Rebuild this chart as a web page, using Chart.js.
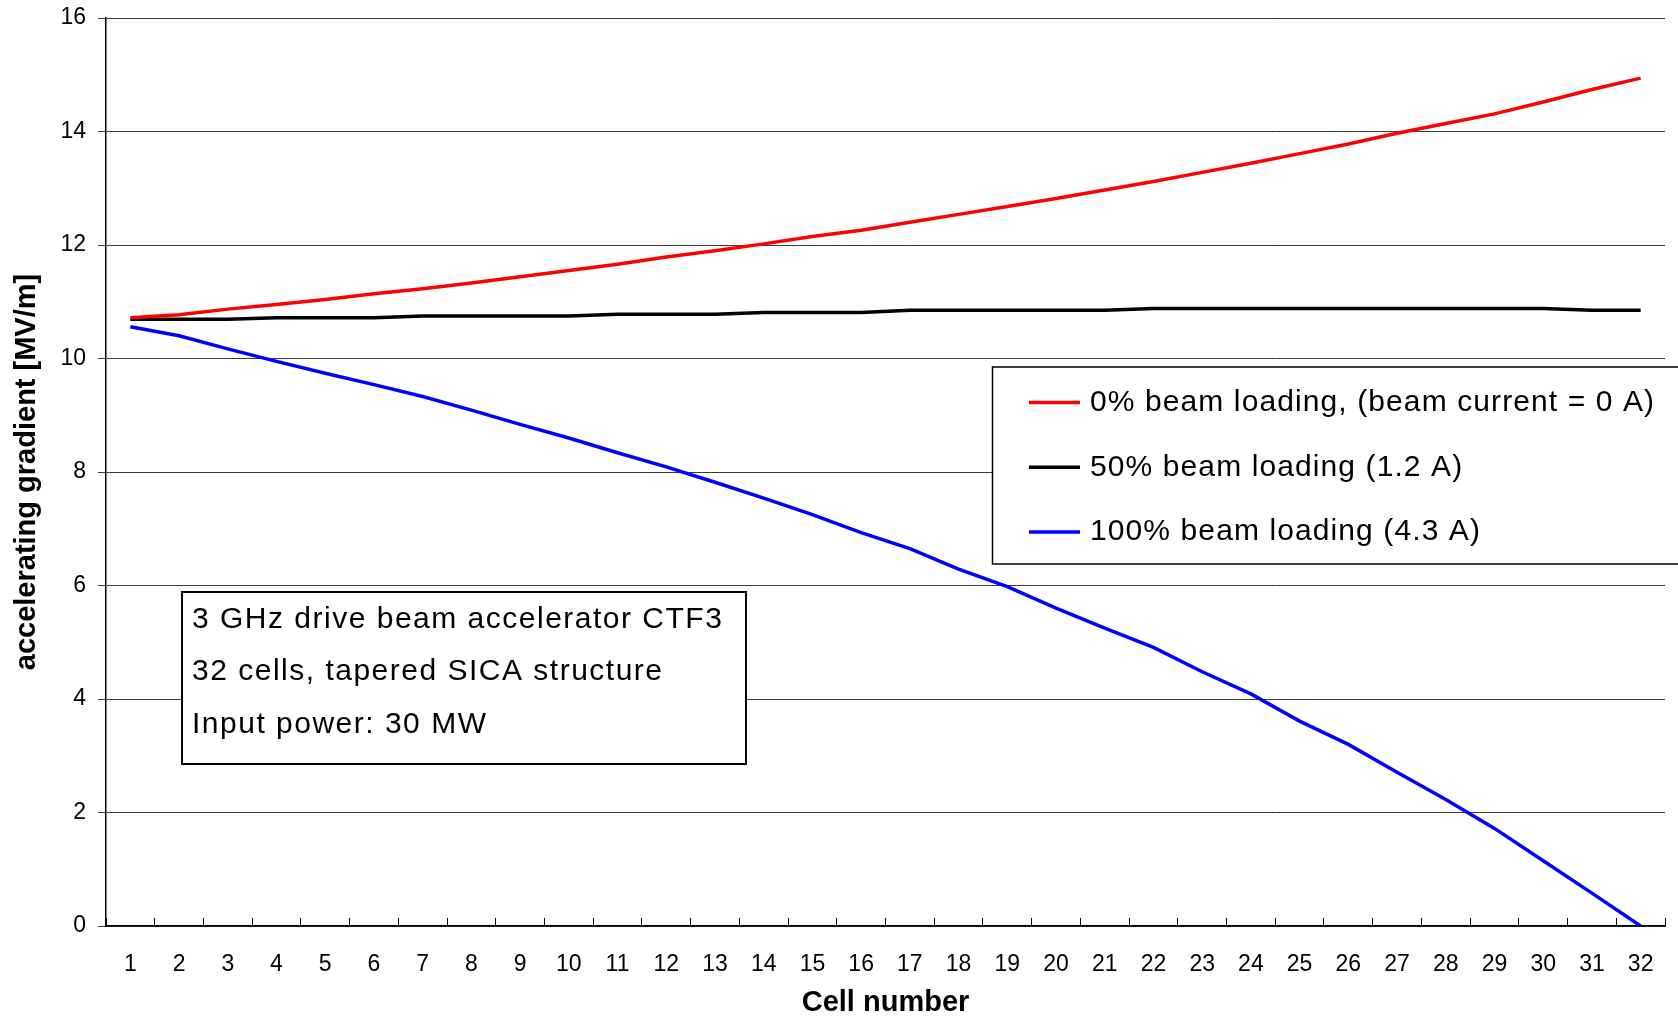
<!DOCTYPE html>
<html>
<head>
<meta charset="utf-8">
<script src="https://cdn.jsdelivr.net/npm/chart.js@4"></script>
<style>
  html, body { margin: 0; padding: 0; background: #fff; }
  #wrap { width: 1678px; height: 1017px; }
</style>
</head>
<body>
<div id="wrap"><canvas id="c" width="1678" height="1017"></canvas></div>
<script>
// ---- data ----
const cells = ['1','2','3','4','5','6','7','8','9','10','11','12','13','14','15','16',
               '17','18','19','20','21','22','23','24','25','26','27','28','29','30','31','32'];
const load0 = [10.72,10.77,10.87,10.95,11.04,11.14,11.23,11.33,11.44,11.55,11.66,11.79,11.90,12.02,12.15,12.26,
               12.40,12.54,12.68,12.82,12.97,13.12,13.28,13.44,13.61,13.78,13.97,14.14,14.31,14.52,14.74,14.94];
const load50 = [10.69,10.69,10.69,10.72,10.72,10.72,10.75,10.75,10.75,10.75,10.78,10.78,10.78,10.81,10.81,10.81,
                10.85,10.85,10.85,10.85,10.85,10.88,10.88,10.88,10.88,10.88,10.88,10.88,10.88,10.88,10.85,10.85];
const load100 = [10.56,10.40,10.17,9.95,9.74,9.54,9.33,9.09,8.84,8.60,8.34,8.09,7.82,7.54,7.25,6.93,
                 6.65,6.29,5.98,5.60,5.25,4.91,4.48,4.09,3.61,3.20,2.71,2.23,1.72,1.15,0.58,0.00];
const seriesLabels = ['0% beam loading, (beam current = 0 A)', '50% beam loading (1.2 A)', '100% beam loading (4.3 A)'];
const seriesColors = ['#ff0000', '#000000', '#0000ff'];
const noteLines = ['3 GHz drive beam accelerator CTF3', '32 cells, tapered SICA structure', 'Input power: 30 MW'];
const yTicks = [0, 2, 4, 6, 8, 10, 12, 14, 16];
const xTitle = 'Cell number';
const yTitle = 'accelerating gradient [MV/m]';

const FONT = "'Liberation Sans', Arial, Helvetica, sans-serif";

const boxesPlugin = {
  id: 'boxes',
  afterDatasetsDraw(chart) {
    const ctx = chart.ctx;
    ctx.save();
    // annotation box
    ctx.fillStyle = '#fff';
    ctx.fillRect(182, 592, 564, 172);
    ctx.strokeStyle = '#000';
    ctx.lineWidth = 2;
    ctx.strokeRect(182, 592, 564, 172);
    ctx.fillStyle = '#000';
    ctx.font = '30px ' + FONT;
    ctx.textBaseline = 'middle';
    ctx.textAlign = 'left';
    try { ctx.letterSpacing = '1.5px'; } catch (e) {}
    noteLines.forEach((t, i) => ctx.fillText(t, 192, 620 + i * 52.2));

    // legend box
    ctx.fillStyle = '#fff';
    ctx.fillRect(992.5, 367, 700, 197);
    ctx.strokeStyle = '#000';
    ctx.lineWidth = 1.5;
    ctx.strokeRect(992.5, 367, 700, 197);
    try { ctx.letterSpacing = '1.1px'; } catch (e) {}
    chart.data.datasets.forEach((ds, i) => {
      const y = 402.5 + i * 64.8;
      ctx.strokeStyle = ds.borderColor;
      ctx.lineWidth = 3.5;
      ctx.beginPath();
      ctx.moveTo(1029, y);
      ctx.lineTo(1080, y);
      ctx.stroke();
      ctx.fillStyle = '#000';
      ctx.fillText(ds.label, 1090, y);
    });
    ctx.restore();
  }
};

const mk = (i, data) => ({
  label: seriesLabels[i],
  data: data,
  borderColor: seriesColors[i],
  backgroundColor: seriesColors[i],
  borderWidth: 3.5,
  pointRadius: 0,
  tension: 0,
  fill: false
});

new Chart(document.getElementById('c'), {
  type: 'line',
  data: {
    labels: cells,
    datasets: [mk(0, load0), mk(1, load50), mk(2, load100)]
  },
  options: {
    responsive: false,
    animation: false,
    events: [],
    layout: { padding: { top: 18, right: 13, left: 0, bottom: 0 } },
    plugins: { legend: { display: false }, tooltip: { enabled: false } },
    scales: {
      x: {
        type: 'category',
        offset: true,
        grid: { offset: true, drawOnChartArea: false, drawTicks: true, tickLength: -8, color: '#000', lineWidth: 1 },
        border: { color: '#000', width: 1.5 },
        ticks: { color: '#000', font: { family: FONT, size: 23 }, padding: 33, maxRotation: 0, autoSkip: false },
        title: { display: true, text: xTitle, color: '#000', font: { family: FONT, size: 29, weight: 'bold', lineHeight: 1 }, padding: { top: 0, bottom: 0 } },
        afterFit(s) { s.height = 91; s.paddingLeft = 0; s.paddingRight = 0; }
      },
      y: {
        min: 0, max: 16,
        afterBuildTicks(s) { s.ticks = yTicks.map(v => ({ value: v })); },
        grid: { color: '#3a3a3a', lineWidth: 1, tickLength: 8, drawTicks: true },
        border: { color: '#000', width: 1.5 },
        ticks: { color: '#000', font: { family: FONT, size: 23 }, padding: 12 },
        title: { display: true, text: yTitle, color: '#000', font: { family: FONT, size: 29, weight: 'bold', lineHeight: 1 }, padding: { top: 12, bottom: 0 } },
        afterFit(s) { s.width = 106; s.paddingTop = 0; s.paddingBottom = 0; }
      }
    }
  },
  plugins: [boxesPlugin]
});
</script>
</body>
</html>
